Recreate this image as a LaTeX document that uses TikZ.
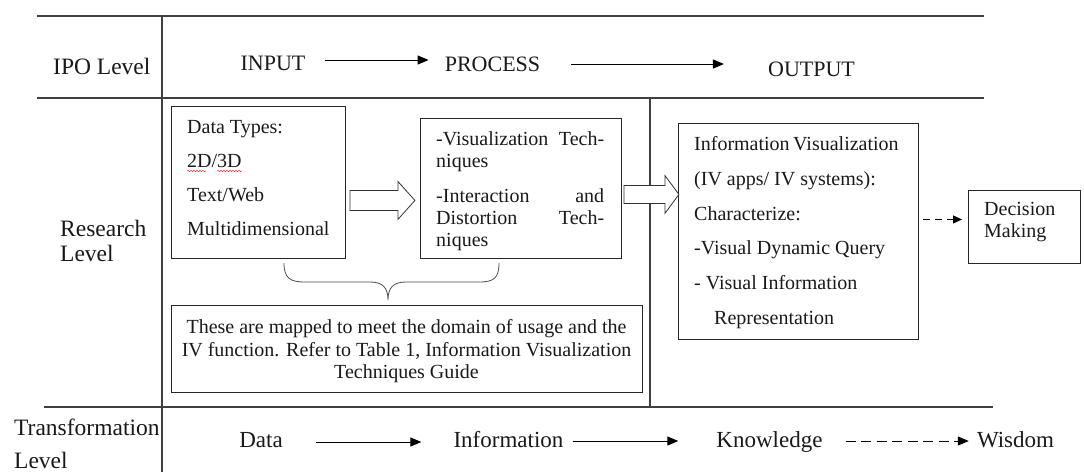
\documentclass[tikz,border=0pt]{standalone}
\usepackage{fontspec}
\setmainfont{Liberation Serif}
\usetikzlibrary{arrows.meta,calc,decorations.pathmorphing}
\begin{document}
\begin{tikzpicture}[x=1pt,y=-1pt,
  rule/.style={line width=1.1pt, black!75},
  box/.style={draw=black!85, line width=0.9pt, anchor=north west, inner sep=0pt},
  hdr/.style={font=\fontsize{22}{26}\selectfont, inner sep=0pt, anchor=base, text=black!90},
  rowlab/.style={hdr, anchor=north west, align=left},
  low/.style={hdr, font=\fontsize{23}{26}\selectfont},
  txt/.style={font=\fontsize{20}{34}\selectfont, inner sep=0pt, anchor=north west, align=left, text=black!90},
  arr/.style={line width=1pt, -{Triangle[length=11pt,width=9pt]}},
  darr/.style={arr, dash pattern=on 10pt off 5.5pt},
  sarr/.style={line width=1pt, dash pattern=on 7pt off 5pt, -{Triangle[length=9pt,width=8pt]}},
  blk/.style={draw=black!80, line width=0.8pt, fill=white},
  brace/.style={draw=black!70, line width=0.8pt},
  squiggle/.style={draw=red!80, line width=0.5pt, decorate, decoration={snake, amplitude=0.7pt, segment length=3pt}}]
\useasboundingbox (0,0) rectangle (1084,472);

% table rules
\draw[rule] (37,16) -- (984,16);
\draw[rule] (37,98) -- (984,98);
\draw[rule] (44,407) -- (993,407);
\draw[rule] (162,16) -- (162,472);
\draw[rule] (650,98) -- (650,407);

% row labels
\node[hdr, anchor=base west, font=\fontsize{23.5}{26}\selectfont] (lipo) at (53,74) {IPO Level};
\node[rowlab, font=\fontsize{23.5}{25}\selectfont] (lres) at (60,220) {Research\\Level};
\node[rowlab, font=\fontsize{23.5}{33}\selectfont] (ltra) at (14,418.5) {Transformation\\Level};

% IPO level
\node[hdr] (inp) at (273,70) {INPUT};
\node[hdr] (proc) at (492.5,71) {PROCESS};
\node[hdr] (outp) at (811.5,76) {OUTPUT};
\draw[arr, shorten <=19pt, shorten >=16pt] (inp.east |- 0,60) -- (proc.west |- 0,60);
\draw[arr, shorten <=31pt, shorten >=44pt] (proc.east |- 0,64) -- (outp.west |- 0,64);

% research level boxes
\node[box, minimum width=174pt, minimum height=152pt] (b1) at (171,106) {};
\node[txt] (t1) at (187,120) {Data Types:\\2D/3D\\Text/Web\\Multidimensional};
\draw[squiggle] (187,171) -- (206,171);
\draw[squiggle] (217,171) -- (242,171);

\node[box, minimum width=201pt, minimum height=140pt] (b2) at (420,118) {};
\node[txt, font=\fontsize{20}{22}\selectfont] (t2) at (436,131)
  {\hbox to 168pt{-Visualization\hfill Tech-}\\niques\\[13pt]
   \hbox to 168pt{-Interaction\hfill and}\\\hbox to 168pt{Distortion\hfill Tech-}\\niques};

\node[box, minimum width=240pt, minimum height=216pt] (b3) at (678,123) {};
\node[txt, font=\fontsize{20}{34.8}\selectfont] (t3) at (694,136.3)
  {Information\hspace{-1.5pt} Visualization\\(IV apps/ IV systems):\\Characterize:\\-Visual Dynamic Query\\- Visual Information\\\hspace*{20pt}Representation};

\node[box, minimum width=471pt, minimum height=87pt] (b4) at (171,305) {};
\node[txt, anchor=north, align=center, font=\fontsize{20}{22.5}\selectfont] (t4) at (406.5,319.3)
  {These are mapped to meet the domain of usage and the\\IV function. Refer to Table 1, Information Visualization\\Techniques Guide};

\node[box, minimum width=112pt, minimum height=73pt] (dec) at (968,190) {};
\node[txt, font=\fontsize{20}{22}\selectfont] (tdec) at (984,202) {Decision\\Making};

% block arrows
\draw[blk] ([shift={(4,8)}]b1.east) -- ++(48,0) -- ++(0,-9) -- ++(17,19) -- ++(-17,19) -- ++(0,-9) -- ++(-48,0) -- cycle;
\draw[blk] ([shift={(2,-3)}]b2.east) -- ++(41,0) -- ++(0,-10) -- ++(14,19) -- ++(-14,19) -- ++(0,-10) -- ++(-41,0) -- cycle;

% brace
\draw[brace] (284,263) .. controls (284,278) and (290,282) .. (305,282) -- (370,282)
  .. controls (383,282) and (388,288) .. (388,300)
  .. controls (388,288) and (393,282) .. (406,282) -- (479,282)
  .. controls (494,282) and (499,278) .. (499,263);

% dashed arrow to decision
\draw[sarr] ([shift={(4,-12)}]b3.east) -- ([shift={(-6,-7.5)}]dec.west);

% transformation level
\node[low] (tdata) at (261,447) {Data};
\node[low] (tinfo) at (508.5,447) {Information};
\node[low] (tknow) at (769.5,447) {Knowledge};
\node[low] (twis) at (1015.5,447) {Wisdom};
\draw[arr, shorten <=33pt, shorten >=32pt] (tdata.east |- 0,442) -- (tinfo.west |- 0,442);
\draw[arr, shorten <=9pt, shorten >=38pt] (tinfo.east |- 0,441) -- (tknow.west |- 0,441);
\draw[darr, shorten <=23pt, shorten >=8pt] (tknow.east |- 0,441) -- (twis.west |- 0,441);
\end{tikzpicture}
\end{document}
